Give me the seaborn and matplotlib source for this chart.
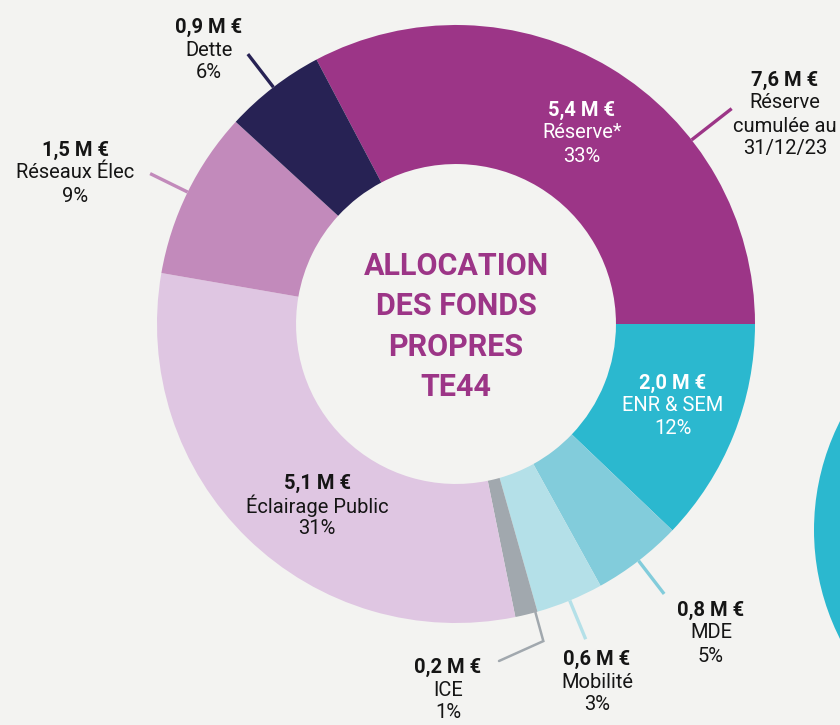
import numpy as np
import matplotlib
matplotlib.use("Agg")
import matplotlib.pyplot as plt
import seaborn as sns
from matplotlib.patches import Circle

# ---------------- data ----------------
categories = ["Réserve*", "ENR & SEM", "MDE", "Mobilité", "ICE",
              "Éclairage Public", "Réseaux Élec", "Dette"]
amounts_meur = [5.4, 2.0, 0.8, 0.6, 0.2, 5.1, 1.5, 0.9]
amount_labels = ["5,4 M €", "2,0 M €", "0,8 M €", "0,6 M €", "0,2 M €",
                 "5,1 M €", "1,5 M €", "0,9 M €"]
percent_labels = ["33%", "12%", "5%", "3%", "1%", "31%", "9%", "6%"]
reserve_total_label = "7,6 M €"
reserve_total_text = ["Réserve", "cumulée au", "31/12/23"]
title_lines = ["ALLOCATION", "DES FONDS", "PROPRES", "TE44"]

# ---------------- style ----------------
colors = ["#9C3587", "#2BB8CF", "#82CCDB", "#B4E0E8", "#A1A8AE",
          "#DFC6E2", "#C28ABB", "#272254"]
line_colors = ["#9C3587", "#2BB8CF", "#82CCDB", "#B4E0E8", "#A1A8AE",
               "#DFC6E2", "#C28ABB", "#272254"]
BG = "#F3F3F1"

sns.set_theme(style="white")
plt.rcParams["font.family"] = ["Roboto", "DejaVu Sans"]

W, H = 840, 725
fig = plt.figure(figsize=(W / 100, H / 100), dpi=100, facecolor=BG)
ax = fig.add_axes([0, 0, 1, 1])
ax.set_facecolor(BG)

# pixel layout of the donut
CX, CY, RPX = 456, 324, 299


def P(x, y):
    return ((x - CX) / RPX, (CY - y) / RPX)


total = sum(amounts_meur)
start = amounts_meur[0] / total * 360.0
wedges, _ = ax.pie(amounts_meur, colors=colors, startangle=start,
                   counterclock=False, radius=1.0,
                   wedgeprops=dict(width=0.465, linewidth=0, edgecolor="none"))

ax.set_xlim(P(0, 0)[0], P(W, 0)[0])
ax.set_ylim(P(0, H)[1], P(0, 0)[1])
ax.set_aspect("equal")
ax.axis("off")

# decorative partial circle of the neighbouring chart (right edge)
cx2, cy2 = P(1055, 530)
ax.add_patch(Circle((cx2, cy2), 241 / RPX, color="#2BB8CF", lw=0, zorder=0))

# ---------------- center title ----------------
for i, t in enumerate(title_lines):
    ax.text(*P(456, 266 + i * 40.5), t, ha="center", va="center",
            fontsize=22, fontweight="bold", color="#9C3587")

# ---------------- labels ----------------
LS = 23  # line spacing px
FS = 14.5

label_pos = {
    0: (582, 110, "white"),
    1: (673, 383, "white"),
    2: (711, 610, "#151515"),
    3: (597, 659, "#151515"),
    4: (448, 667, "#151515"),
    5: (317, 483, "#151515"),
    6: (75, 150, "#151515"),
    7: (209, 27, "#151515"),
}


def block(x, y, lines, color):
    for k, ln in enumerate(lines):
        ax.text(*P(x, y + k * LS), ln, ha="center", va="center",
                fontsize=FS, color=color,
                fontweight="bold" if k == 0 else "normal")


for i, (x, y, c) in label_pos.items():
    block(x, y, [amount_labels[i], categories[i], percent_labels[i]], c)

block(785, 80, [reserve_total_label] + reserve_total_text, "#151515")

# ---------------- leader lines ----------------
def mid_angle(w):
    return np.deg2rad((w.theta1 + w.theta2) / 2)


for i in [2, 3, 6, 7]:
    a = mid_angle(wedges[i])
    r0, r1 = 1.0, 1.14
    ax.plot([r0 * np.cos(a), r1 * np.cos(a)], [r0 * np.sin(a), r1 * np.sin(a)],
            color=line_colors[i], lw=2.4, solid_capstyle="butt")

# Reserve outer leader
a = np.deg2rad(38)
ax.plot([1.0 * np.cos(a), 1.17 * np.cos(a)], [1.0 * np.sin(a), 1.17 * np.sin(a)],
        color=line_colors[0], lw=2.4, solid_capstyle="butt")

# ICE elbow leader
a = np.deg2rad(-74.6)
p1 = (1.0 * np.cos(a), 1.0 * np.sin(a))
p2 = (1.10 * np.cos(a), 1.10 * np.sin(a))
p3 = P(499, 661)
ax.plot([p1[0], p2[0], p3[0]], [p1[1], p2[1], p3[1]],
        color=line_colors[4], lw=1.8, solid_joinstyle="miter")

fig.savefig("out.png", dpi=100, facecolor=BG)
